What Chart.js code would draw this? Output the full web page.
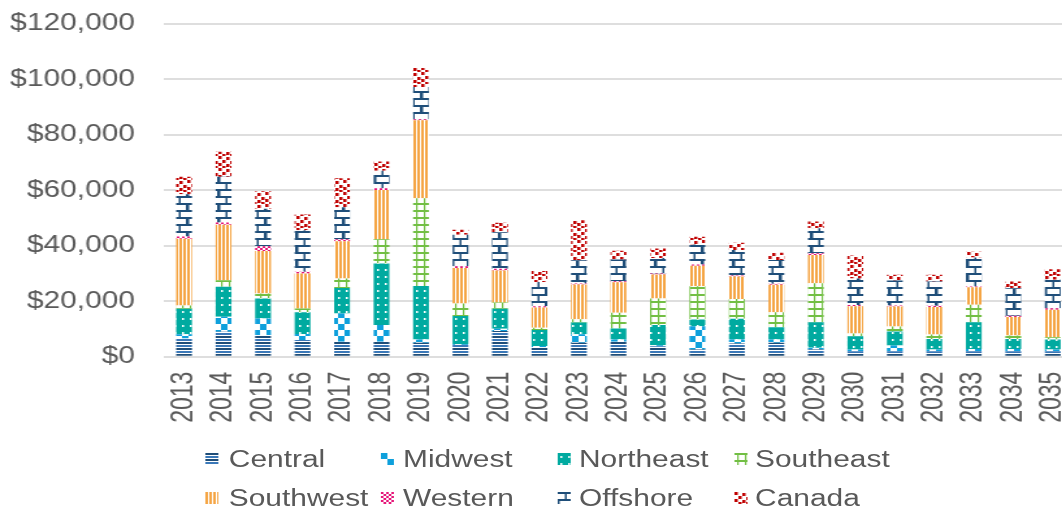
<!DOCTYPE html>
<html><head><meta charset="utf-8">
<script src="https://cdn.jsdelivr.net/npm/chart.js@4/dist/chart.umd.min.js"></script>
<style>
html,body{margin:0;padding:0;background:#fff;overflow:hidden;width:1062px;height:508px;}
#wrap{position:absolute;left:0;top:0;width:830px;height:508px;transform:scaleX(1.3);transform-origin:0 0;}
#c{position:absolute;left:0;top:0;}
.lt{position:absolute;font-family:"Liberation Sans",Arial,sans-serif;font-size:23px;color:#595959;white-space:nowrap;line-height:1;}
.sw{position:absolute;}
</style></head><body>
<div id="wrap"><canvas id="c" width="830" height="440"></canvas><div id="legend"></div></div>
<script>
const years = ['2013','2014','2015','2016','2017','2018','2019','2020','2021','2022','2023','2024','2025','2026','2027','2028','2029','2030','2031','2032','2033','2034','2035'];
const seriesNames = ['Central','Midwest','Northeast','Southeast','Southwest','Western','Offshore','Canada'];
const central   = [6600,9000,7800,6000,5400,5400,5000,4200,9300,3400,5000,5400,3800,2600,4800,5000,2600,2000,2000,2000,2000,2000,2000];
const midwest   = [1500,5400,6000,2200,10200,6000,1200,300,800,500,3100,800,300,8400,1400,1200,600,600,2000,600,800,800,600];
const northeast = [9200,10800,7200,7800,9200,22200,19300,10200,7200,5700,4200,4000,7300,2400,7500,4400,9200,4800,5100,3800,9600,3600,3600];
const southeast = [1200,2400,1800,1400,3400,8700,31600,4500,2200,800,1200,5600,9600,12000,7100,5400,14100,1000,1800,1600,6300,1200,800];
const southwest = [24000,20000,15300,12600,13400,17800,28100,12800,11600,7300,12500,11000,8600,7400,8100,9900,10200,9800,7200,9900,6300,6700,9900];
const western   = [800,800,1700,600,700,600,400,600,600,500,400,400,400,400,400,400,600,400,400,500,300,500,600];
const offshore  = [15300,16500,13500,15000,11600,6300,11600,11400,13200,8700,8400,7800,5600,7200,9200,8600,9000,9600,9000,8700,10500,9900,10200];
const canada    = [6300,9000,6300,5700,10400,3400,6900,1800,3400,4000,14400,3200,3400,2800,2600,2600,2400,8300,2000,2400,2000,2400,3800];
const yTicks = [0,20000,40000,60000,80000,100000,120000];

const seriesValues = [central,midwest,northeast,southeast,southwest,western,offshore,canada];

function tile(w,h,draw){const c=document.createElement('canvas');c.width=w;c.height=h;const x=c.getContext('2d');x.fillStyle='#fff';x.fillRect(0,0,w,h);draw(x);return c;}
const tiles = [
  tile(4,6,x=>{x.fillStyle='#1f4e79';x.fillRect(0,0,4,2);x.fillStyle='#3a78b8';x.fillRect(0,3,4,2);}),
  tile(10,12,x=>{x.fillStyle='#0ea0dc';x.fillRect(0,0,5,6);x.fillRect(5,6,5,6);}),
  tile(6,7,x=>{x.fillStyle='#00aaa0';x.fillRect(0,0,6,7);x.fillStyle='#ffffff';x.fillRect(2,3,1.5,2);}),
  tile(6,7,x=>{x.fillStyle='#72bf44';x.fillRect(0,0,6,2);x.fillRect(2,0,1.2,7);}),
  tile(3,4,x=>{x.fillStyle='#f5a544';x.fillRect(0,0,2,4);}),
  tile(4,4,x=>{x.fillStyle='#e6177a';x.fillRect(0,0,2,2);x.fillRect(2,2,2,2);}),
  tile(12,14,x=>{x.fillStyle='#1f4e79';x.fillRect(0,0,12,2);x.fillRect(0,7,12,2);x.fillRect(5.5,2,1.5,5);x.fillRect(0,9,1.5,5);x.fillRect(11,9,1,5);}),
  tile(12,12,x=>{x.fillStyle='#c00000';[[0,0],[6,1],[3,4],[9,5],[0,7],[6,8],[9,10],[3,10]].forEach(p=>x.fillRect(p[0],p[1],2.5,3));})
];
const ctx = document.getElementById('c').getContext('2d');
const patterns = tiles.map(t=>ctx.createPattern(t,'repeat'));

const FONT = '"Liberation Sans", Arial, sans-serif';
const TXT = '#595959';

new Chart(ctx,{
  type:'bar',
  data:{labels:years,datasets:seriesNames.map((n,i)=>({label:n,data:seriesValues[i],backgroundColor:patterns[i],borderWidth:0,barPercentage:1,categoryPercentage:0.4}))},
  options:{
    responsive:false,animation:false,
    layout:{padding:{left:0,right:5,top:23.8,bottom:0}},
    plugins:{legend:{display:false},tooltip:{enabled:false}},
    scales:{
      x:{stacked:true,grid:{display:false,drawTicks:false},border:{display:false},
         ticks:{minRotation:90,maxRotation:90,autoSkip:false,padding:15,color:TXT,font:{family:FONT,size:23}},
         afterFit(s){s.height=440-356.7;s.paddingLeft=0;s.paddingRight=0;}},
      y:{stacked:true,min:0,max:120000,
         afterBuildTicks(s){s.ticks=yTicks.map(v=>({value:v}));},
         ticks:{padding:22.6,color:TXT,font:{family:FONT,size:23},callback:v=>'$'+Number(v).toLocaleString('en-US')},
         grid:{color:'#dedede',lineWidth:2,drawTicks:false},border:{display:false},
         afterFit(s){s.width=126.4;s.paddingTop=0;s.paddingBottom=0;}}
    }
  }
});

// HTML legend (two rows of four columns)
const leg = document.getElementById('legend');
const colBox = [157.7,293,428.5,565];
const colTxt = [176,310,445.4,580.8];
const rowC = [459,498];
seriesNames.forEach((n,i)=>{
  const r = Math.floor(i/4), c = i%4;
  const sw = document.createElement('canvas');
  sw.width=10; sw.height=12; sw.className='sw';
  sw.style.left=colBox[c]+'px'; sw.style.top=(rowC[r]-6)+'px';
  const sx=sw.getContext('2d'); sx.fillStyle=sx.createPattern(tiles[i],'repeat'); sx.fillRect(0,0,10,12);
  leg.appendChild(sw);
  const t=document.createElement('div'); t.className='lt'; t.textContent=n;
  t.style.left=colTxt[c]+'px'; t.style.top=(rowC[r]-11.2)+'px';
  leg.appendChild(t);
});
</script>
</body></html>
